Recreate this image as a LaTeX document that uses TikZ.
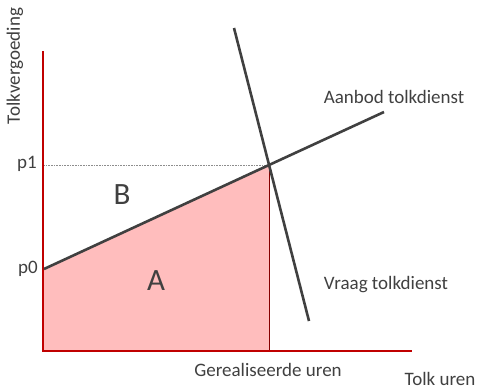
\documentclass[tikz,border=0pt]{standalone}
\usepackage{fontspec}
\setmainfont{Carlito}
\usepackage{xcolor}
\definecolor{axisred}{HTML}{C00000}
\definecolor{linegray}{HTML}{404040}
\definecolor{areapink}{HTML}{FFBDBD}
\usetikzlibrary{calc, positioning}

\begin{document}
\begin{tikzpicture}[
        x=1pt, y=-1pt,
        font=\fontsize{19}{21}\selectfont,
        axis/.style={draw=axisred, line width=2.4pt},
        curve/.style={draw=linegray, line width=2.6pt},
        lbl/.style={text=linegray, inner sep=0pt},
        area/.style={font=\fontsize{31}{34}\selectfont, text=linegray, inner sep=0pt}
    ]
        \useasboundingbox (0,0) rectangle (478,389);

        % punten
        \coordinate (origin) at (43,351);
        \coordinate (ytop)   at (43,51);
        \coordinate (xend)   at (412,351);
        \coordinate (p0pt)   at (44,269);
        \coordinate (eq)     at (269,165);
        \coordinate (sEnd)   at (384,112);
        \coordinate (dTop)   at (234,28);
        \coordinate (dEnd)   at (309,321);

        % gebied
        \fill[areapink] (p0pt) -- (eq) -- (eq |- origin) -- (origin) -- cycle;
        \draw[axisred!70!black, line width=0.8pt] (eq) -- (eq |- origin);
        \draw[linegray!60, line width=0.6pt, densely dotted] (eq) -- (eq -| ytop);

        % assen
        \draw[axis] (ytop) -- (origin) -- (xend);

        % aanbod en vraag
        \draw[curve] (p0pt) -- (eq) -- (sEnd);
        \draw[curve] (dTop) -- (dEnd);

        % labels
        \node[lbl, rotate=90] (yLbl) at (15,66) {Tolkvergoeding};
        \node[lbl] (p1Lbl) at (27,164) {p1};
        \node[lbl] (p0Lbl) at (28,269) {p0};
        \node[area] (areaB) at (122,195) {B};
        \node[area] (areaA) at (156,281) {A};
        \node[lbl] (supLbl) at (394,97) {Aanbod tolkdienst};
        \node[lbl] (demLbl) at (386,285) {Vraag tolkdienst};
        \node[lbl] (qLbl) at (268,370) {Gerealiseerde uren};
        \node[lbl] (xLbl) at (440,379) {Tolk uren};

    \end{tikzpicture}
\end{document}
